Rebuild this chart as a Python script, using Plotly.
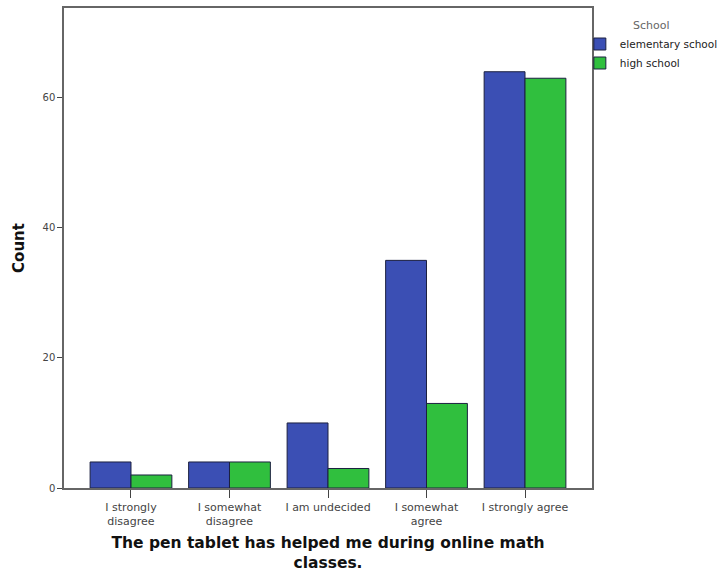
import plotly.graph_objects as go

categories = ["I strongly<br>disagree", "I somewhat<br>disagree", "I am undecided",
              "I somewhat<br>agree", "I strongly agree"]
elementary = [4, 4, 10, 35, 64]
high = [2, 4, 3, 13, 63]
y_ticks = [0, 20, 40, 60]

fig = go.Figure()
fig.add_trace(go.Bar(x=categories, y=elementary, name="elementary school",
                     marker=dict(color="#3b4fb4", line=dict(color="#1c2040", width=1))))
fig.add_trace(go.Bar(x=categories, y=high, name="high school",
                     marker=dict(color="#30bf3e", line=dict(color="#1c2040", width=1))))

fig.update_layout(
    width=721, height=572,
    margin=dict(l=64, r=129, t=8, b=84, autoexpand=False),
    paper_bgcolor="white", plot_bgcolor="white",
    barmode="group", bargap=0.17, bargroupgap=0,
    font=dict(family="DejaVu Sans, Verdana, sans-serif", color="#333"),
    legend=dict(x=0.977, xanchor="left", y=0.985, yanchor="top",
                title=dict(text="School", side="top center", font=dict(size=11, color="#666")),
                font=dict(size=10.5, color="#222"), itemwidth=30,
                tracegroupgap=0, bgcolor="rgba(0,0,0,0)"),
    xaxis=dict(range=[-0.68, 4.68], showline=True, linecolor="#666", linewidth=1.5,
               mirror=True, ticks="outside", ticklen=8, tickcolor="#444",
               tickfont=dict(size=11, color="#444"),
               title=dict(text="<b>The pen tablet has helped me during online math<br>classes.</b>",
                          font=dict(family="DejaVu Sans, Verdana, sans-serif", size=15.5, color="#111"),
                          standoff=11),
               showgrid=False),
    yaxis=dict(range=[0, 73.8], showline=True, linecolor="#666", linewidth=1.5,
               mirror=True, ticks="outside", ticklen=5, tickcolor="#444",
               tickvals=y_ticks, tickfont=dict(size=10, color="#444"),
               title=dict(text="<b>Count</b>",
                          font=dict(family="DejaVu Sans, Verdana, sans-serif", size=15, color="#111"),
                          standoff=14),
               showgrid=False, zeroline=False),
)

fig.write_html("out.html", config={"displayModeBar": False},
               post_script="document.body.style.margin='0';")
